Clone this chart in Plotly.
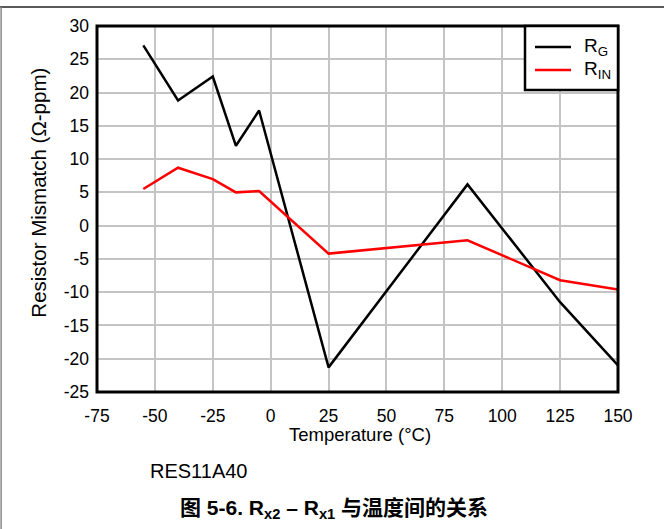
import plotly.graph_objects as go

# Temperature sweep (°C) and measured mismatch per resistor pair (Ω-ppm)
temperature = [-55, -40, -25, -15, -5, 25, 85, 125, 150]
r_g = [27.1, 18.8, 22.4, 12.0, 17.3, -21.3, 6.2, -11.5, -21.0]
r_in = [5.5, 8.7, 7.0, 5.0, 5.2, -4.2, -2.2, -8.2, -9.6]

x_ticks = [-75, -50, -25, 0, 25, 50, 75, 100, 125, 150]
y_ticks = [-25, -20, -15, -10, -5, 0, 5, 10, 15, 20, 25, 30]

series = [("R<sub>G</sub>", r_g, "black"), ("R<sub>IN</sub>", r_in, "#ff0000")]

FONT = "Arial, Liberation Sans, sans-serif"
CAPTION_FONT = "Arial, Liberation Sans, Noto Sans CJK SC, sans-serif"
GRID = "#c4c4c4"

fig = go.Figure()
for name, values, color in series:
    fig.add_trace(go.Scatter(x=temperature, y=values, mode="lines", name=name,
                             line=dict(color=color, width=2.5)))

fig.update_layout(
    width=664, height=529,
    margin=dict(l=97, r=46, t=26, b=137),
    paper_bgcolor="white", plot_bgcolor="white",
    font=dict(family=FONT, size=17.5, color="black"),
    showlegend=False,
    xaxis=dict(range=[-75, 150], tickvals=x_ticks, ticktext=[str(v) for v in x_ticks],
               showgrid=True, gridcolor=GRID, gridwidth=1.5, zeroline=False,
               showline=False, ticks="", ticklabelstandoff=11,
               tickfont=dict(size=17.5)),
    yaxis=dict(range=[-25, 30], tickvals=y_ticks, ticktext=[str(v) for v in y_ticks],
               showgrid=True, gridcolor=GRID, gridwidth=1.5, zeroline=False,
               showline=False, ticks="", ticklabelstandoff=7,
               tickfont=dict(size=17.5)),
)

# Heavy frame around the plotting area
fig.add_shape(type="rect", xref="paper", yref="paper", x0=0, y0=0, x1=1, y1=1,
              line=dict(color="black", width=3), layer="above")

# Boxed key in the upper-right corner
fig.add_shape(type="rect", xref="paper", yref="paper", x0=0.8215, x1=1.0,
              y0=0.825, y1=1.0, fillcolor="white",
              line=dict(color="black", width=2.5), layer="above")
key_rows = [0.9426, 0.8798]
for (name, _, color), ky in zip(series, key_rows):
    fig.add_shape(type="line", xref="paper", yref="paper", x0=0.8407, x1=0.9098,
                  y0=ky, y1=ky, line=dict(color=color, width=2.5), layer="above")
    fig.add_annotation(text=name, xref="paper", yref="paper", x=0.9300, y=ky,
                       showarrow=False, xanchor="left", yanchor="middle",
                       font=dict(size=19))

# Page rules: top horizontal and left vertical
fig.add_shape(type="line", xref="paper", yref="paper", x0=-0.19, x1=1.09,
              y0=1.052, y1=1.052, line=dict(color="#222222", width=1.5))
fig.add_shape(type="line", xref="paper", yref="paper", x0=-0.184, x1=-0.184,
              y0=1.052, y1=-0.40, line=dict(color="#888888", width=1.5))

# Axis titles
fig.add_annotation(text="Temperature (°C)", xref="paper", yref="paper",
                   x=0.505, y=-0.117, showarrow=False, font=dict(size=18.5),
                   xanchor="center", yanchor="middle")
fig.add_annotation(text="Resistor Mismatch (Ω-ppm)", xref="paper", yref="paper",
                   x=-0.113, y=0.545, showarrow=False, textangle=-90,
                   font=dict(size=20.5), xanchor="center", yanchor="middle")

# Part number and caption
fig.add_annotation(text="RES11A40", xref="paper", yref="paper",
                   x=0.098, y=-0.215, showarrow=False, font=dict(size=20),
                   xanchor="left", yanchor="middle")
fig.add_annotation(text="<b>图 5-6. R<sub>x2</sub> – R<sub>x1</sub> 与温度间的关系</b>",
                   xref="paper", yref="paper", x=0.454, y=-0.320, showarrow=False,
                   font=dict(size=21, family=CAPTION_FONT),
                   xanchor="center", yanchor="middle")

fig.write_html("out.html")
